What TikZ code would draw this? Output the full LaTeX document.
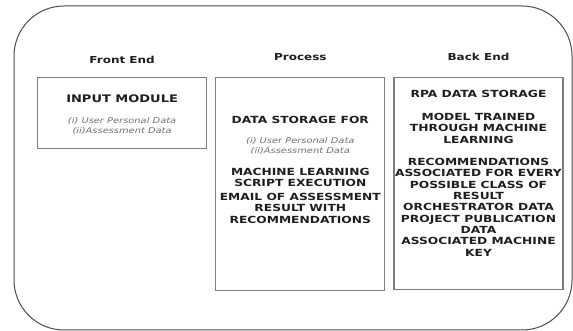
\documentclass[tikz,border=0pt]{standalone}
\usepackage{fontspec}
\setmainfont{DejaVu Sans}[FakeStretch=1.25]
\usepackage{tikz}
\usetikzlibrary{positioning}
\usepackage{xcolor}
\definecolor{InkBlack}{HTML}{1E1E1E}
\definecolor{NoteGray}{HTML}{707070}
\definecolor{RuleGray}{HTML}{7D7D7D}
\definecolor{FrameGray}{HTML}{4A4A4A}
\tikzset{%
  frame_path/.style={%
    draw=FrameGray,%
    line width=1pt,%
    rounded corners=50pt,%
  },
  column_box/.style={%
    rectangle,%
    draw=RuleGray,%
    line width=1.2pt,%
    minimum width=169pt,%
    inner sep=0pt,%
  },
  column_head/.style={%
    text=InkBlack,%
    inner sep=0pt,%
    font={\fontsize{9.6}{11}\selectfont\bfseries},%
  },
  box_title/.style={%
    text=InkBlack,%
    inner sep=0pt,%
    font={\fontsize{10.4}{12}\selectfont\bfseries},%
  },
  box_caps/.style={%
    text=InkBlack,%
    inner sep=0pt,%
    align=center,%
    font={\fontsize{9.8}{11.3}\selectfont\bfseries},%
  },
  box_note/.style={%
    text=NoteGray,%
    inner sep=0pt,%
    align=center,%
    font={\fontsize{7.9}{10}\selectfont\itshape},%
  },
}
\begin{document}
\begin{tikzpicture}[x=1pt, y=1pt]
  \useasboundingbox (0,0) rectangle (573,331);
  \draw [frame_path] (14,325) rectangle (572,1);

  % the three columns
  \node [column_box, minimum height=71pt, anchor=north west] (FrontBox) at (37,254) {};
  \node [column_box, minimum height=213pt, right = 8 of FrontBox.north east, anchor=north west] (ProcessBox) {};
  \node [column_box, minimum height=212pt, right = 8 of ProcessBox.north east, anchor=north west] (BackBox) {};

  \node [column_head, above = 13.5 of FrontBox.north] (FrontHead) {Front End};
  \node [column_head, above = 16.5 of ProcessBox.north] (ProcessHead) {Process};
  \node [column_head, above = 16.5 of BackBox.north] (BackHead) {Back End};

  % front end
  \node [box_title, below = 18 of FrontBox.north] (InputTitle) {INPUT MODULE};
  \node [box_note, below = 14 of InputTitle] (InputNote) {(i) User Personal Data\\(ii)Assessment Data};

  % process
  \node [box_caps, below = 39.4 of ProcessBox.north] (StoreTitle) {DATA STORAGE FOR};
  \node [box_note, below = 13 of StoreTitle] (StoreNote) {(i) User Personal Data\\(ii)Assessment Data};
  \node [box_caps, below = 13.4 of StoreNote] (ScriptRun) {MACHINE LEARNING\\SCRIPT EXECUTION};
  \node [box_caps, below = 5.8 of ScriptRun] (ResultMail) {EMAIL OF ASSESSMENT\\RESULT WITH\\RECOMMENDATIONS};

  % back end
  \node [box_caps, below = 13.4 of BackBox.north] (RpaTitle) {RPA DATA STORAGE};
  \node [box_caps, below = 14.8 of RpaTitle] (TrainedModel) {MODEL TRAINED\\THROUGH MACHINE\\LEARNING};
  \node [box_caps, below = 14.8 of TrainedModel] (BackData) {RECOMMENDATIONS\\ASSOCIATED FOR EVERY\\POSSIBLE CLASS OF\\RESULT\\ORCHESTRATOR DATA\\PROJECT PUBLICATION\\DATA\\ASSOCIATED MACHINE\\KEY};
\end{tikzpicture}
\end{document}
